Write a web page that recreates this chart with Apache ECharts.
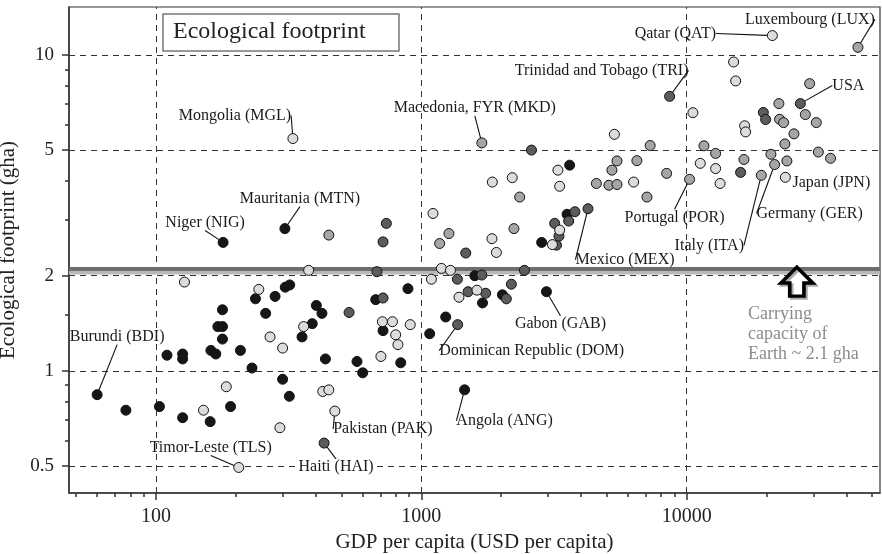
<!DOCTYPE html>
<html>
<head>
<meta charset="utf-8">
<script src="https://cdn.jsdelivr.net/npm/echarts@6/dist/echarts.min.js"></script>
<style>html,body{margin:0;padding:0;background:#fff}#c{width:882px;height:554px}</style>
</head>
<body>
<div id="c"></div>
<script>
// ---- data (GDP per capita USD, footprint gha, optional label) ----
const blackPts = [
  [60,0.84,'Burundi (BDI)'],[77,0.75],[103,0.77],[126,0.71],[160,0.69],[191,0.77],[230,1.02],
  [300,0.94],[318,0.83],[435,1.09],[572,1.07],[601,0.985],[836,1.06],[717,1.34],[1075,1.31],
  [1235,1.48],[110,1.12],[126,1.13],[126,1.09],[161,1.16],[168,1.13],[208,1.16],[171,1.38],
  [178,1.38],[178,1.26],[179,2.55,'Niger (NIG)'],[306,2.82,'Mauritania (MTN)'],[237,1.69],
  [281,1.72],[307,1.84],[319,1.87],[178,1.56],[259,1.52],[402,1.61],[422,1.52],[388,1.41],
  [355,1.28],[673,1.68],[890,1.82],[1590,2.0],[1700,1.64],[2020,1.74],[2960,1.78,'Gabon (GAB)'],
  [1455,0.87,'Angola (ANG)'],[2840,2.55],[3540,3.13],[3620,4.48]
];
const darkPts = [
  [430,0.59,'Haiti (HAI)'],[534,1.53],[680,2.06],[738,2.93],[717,2.56],[1470,2.36],[1690,2.01],
  [2445,2.08],[1367,1.95],[717,1.70],[1500,1.78],[1747,1.76],[2090,1.69],[2183,1.88],
  [1370,1.40,'Dominican Republic (DOM)'],[3230,2.50],[3300,2.67],[3180,2.93],[3590,2.98],
  [3790,3.19],[4245,3.26,'Mexico (MEX)'],[2600,5.0],[8620,7.4,'Trinidad and Tobago (TRI)'],
  [26800,7.02,'USA'],[19440,6.58],[19830,6.25],[15960,4.25]
];
const midPts = [
  [448,2.69],[1690,5.27,'Macedonia, FYR (MKD)'],[1270,2.72],[1172,2.53],[2233,2.82],[2347,3.55],
  [5460,4.62],[5225,4.32],[6490,4.63],[4565,3.92],[5090,3.87],[5460,3.89],[7280,5.17],[7080,3.55],
  [8400,4.22],[10250,4.04,'Portugal (POR)'],[11610,5.16],[12850,4.88],[16430,4.67],[20760,4.85],
  [23850,4.62],[31330,4.93],[34840,4.71],[21440,4.5,'Germany (GER)'],[19100,4.16,'Italy (ITA)'],
  [23440,5.23],[25350,5.63],[22250,7.02],[22390,6.26],[23180,6.11],[27990,6.48],[30780,6.11],
  [29050,8.12],[44180,10.58,'Luxembourg (LUX)']
];
const lightPts = [
  [128,1.91],[244,1.81],[376,2.08],[328,5.44,'Mongolia (MGL)'],[360,1.38],[269,1.28],[300,1.18],
  [184,0.89],[151,0.75],[293,0.66],[425,0.86],[448,0.87],[472,0.745,'Pakistan (PAK)'],
  [205,0.494,'Timor-Leste (TLS)'],[713,1.43],[778,1.43],[800,1.30],[816,1.21],[908,1.40],
  [704,1.11],[1106,3.15],[1190,2.11],[1287,2.08],[1091,1.95],[1845,2.62],[1917,2.37],[1386,1.71],
  [1620,1.80],[3116,2.51],[3320,2.79],[3320,3.84],[3270,4.32],[1851,3.96],[2200,4.09],[5337,5.61],
  [6308,3.96],[10550,6.57],[11250,4.54],[12850,4.37],[13360,3.92],[15020,9.51],[15290,8.28],
  [16530,5.97],[16670,5.71],[23530,4.10,'Japan (JPN)'],[21020,11.53,'Qatar (QAT)']
];
const xMajorTicks = [100, 1000, 10000];
const xMinorTicks = [50,60,70,80,90,200,300,400,500,600,700,800,900,2000,3000,4000,5000,6000,7000,8000,9000,20000,30000,40000,50000];
const yMajorTicks = [0.5, 1, 2, 5, 10];
const yMinorTicks = [0.6,0.7,0.8,0.9,1.5,3,4,6,7,8,9];
const carryingCapacity = 2.1;

// ---- presentation ----
const SERIF = 'Liberation Serif';
const labelOffsets = {
  'Mongolia (MGL)': [-58,-23], 'Mauritania (MTN)': [15,-30], 'Niger (NIG)': [-18,-20],
  'Burundi (BDI)': [20,-58], 'Timor-Leste (TLS)': [-28,-20], 'Haiti (HAI)': [12,24],
  'Pakistan (PAK)': [48,18], 'Angola (ANG)': [40,31], 'Gabon (GAB)': [14,32],
  'Dominican Republic (DOM)': [74,26], 'Mexico (MEX)': [37,51], 'Macedonia, FYR (MKD)': [-7,-35],
  'Trinidad and Tobago (TRI)': [-68,-26], 'Qatar (QAT)': [-97,-2], 'Luxembourg (LUX)': [-48,-28],
  'USA': [48,-18], 'Portugal (POR)': [-15,38], 'Germany (GER)': [35,49], 'Italy (ITA)': [-52,70],
  'Japan (JPN)': [46,5]
};
const noLeader = ['Japan (JPN)'];
const whiteBackLabels = ['Haiti (HAI)'];
const fmt = v => String(+(+v).toPrecision(6));

function toData(pts) {
  return pts.map(p => {
    const lbl = p[2] || '';
    const labelOpt = { show: !!lbl };
    if (whiteBackLabels.indexOf(lbl) >= 0) { labelOpt.backgroundColor = '#fff'; labelOpt.padding = [0, 2]; }
    return {
      value: [p[0], p[1]], name: lbl,
      label: labelOpt,
      labelLine: { show: !!lbl && noLeader.indexOf(lbl) < 0 }
    };
  });
}
function scatter(name, pts, fill) {
  return {
    name, type: 'scatter', z: 4, data: toData(pts), symbol: 'circle', symbolSize: 10,
    itemStyle: { color: fill, borderColor: '#111', borderWidth: 1, opacity: 1 },
    label: { show: false, position: 'inside', formatter: '{b}', fontFamily: SERIF, fontSize: 16, color: '#1a1a1a' },
    labelLine: { show: true, lineStyle: { color: '#111', width: 1.1 } },
    labelLayout: params => {
      const o = labelOffsets[params.text] || [0, 0];
      return { dx: o[0], dy: o[1] };
    },
    emphasis: { disabled: true }
  };
}

const axisCommonX = { type: 'log', logBase: 10, min: 47, max: 53500, position: 'bottom', gridIndex: 0 };
const axisCommonY = { type: 'log', logBase: 10, min: 0.41, max: 14.2, position: 'left', gridIndex: 0 };
const gridDash = { type: [6, 5], color: '#333', width: 1 };

const option = {
  animation: false,
  backgroundColor: '#fff',
  title: {
    text: 'Ecological footprint', left: 163, top: 14,
    borderColor: '#777', borderWidth: 1.5, padding: [6, 34, 7, 10],
    textStyle: { fontFamily: SERIF, fontSize: 24, fontWeight: 'normal', color: '#222' }
  },
  grid: {
    left: 69, right: 2, top: 7, bottom: 61, show: true, borderColor: '#333', borderWidth: 1.2,
    backgroundColor: 'transparent', containLabel: false, outerBoundsMode: 'none'
  },
  xAxis: [
    Object.assign({}, axisCommonX, {
      name: 'GDP per capita (USD per capita)', nameLocation: 'middle', nameGap: 38,
      nameTextStyle: { fontFamily: SERIF, fontSize: 21, color: '#222' },
      axisLine: { show: true, lineStyle: { color: '#333', width: 1.5 } },
      axisTick: { show: true, length: 7, customValues: xMajorTicks, lineStyle: { color: '#333', width: 1.5 } },
      axisLabel: { customValues: xMajorTicks, formatter: fmt, fontFamily: SERIF, fontSize: 20, color: '#222', margin: 14 },
      splitLine: { show: false }
    }),
    Object.assign({}, axisCommonX, {
      axisLine: { show: false },
      axisTick: { show: true, length: 4, customValues: xMinorTicks, lineStyle: { color: '#333', width: 1.5 } },
      axisLabel: { show: false }, splitLine: { show: false }
    })
  ],
  yAxis: [
    Object.assign({}, axisCommonY, {
      name: 'Ecological footprint (gha)', nameLocation: 'middle', nameGap: 40,
      nameTextStyle: { fontFamily: SERIF, fontSize: 21, color: '#222' },
      axisLine: { show: true, lineStyle: { color: '#333', width: 1.5 } },
      axisTick: { show: true, length: 7, customValues: yMajorTicks, lineStyle: { color: '#333', width: 1.5 } },
      axisLabel: { customValues: yMajorTicks, formatter: fmt, fontFamily: SERIF, fontSize: 19, color: '#222', margin: 15 },
      splitLine: { show: false }
    }),
    Object.assign({}, axisCommonY, {
      axisLine: { show: false },
      axisTick: { show: true, length: 4, customValues: yMinorTicks, lineStyle: { color: '#333', width: 1.5 } },
      axisLabel: { show: false }, splitLine: { show: false }
    })
  ],
  series: [
    {
      name: 'guides', type: 'scatter', data: [], z: 1, silent: true,
      markLine: {
        z: 1, silent: true, symbol: 'none', label: { show: false }, lineStyle: gridDash,
        data: yMajorTicks.map(v => ({ yAxis: v })).concat(xMajorTicks.map(v => ({ xAxis: v })))
      }
    },
    {
      name: 'capacity', type: 'scatter', data: [], z: 2, silent: true,
      markLine: {
        z: 2, silent: true, symbol: 'none', label: { show: false },
        lineStyle: { type: 'solid', color: '#6d6d6d', width: 4, shadowColor: '#b8b8b8', shadowOffsetY: 3.5, shadowBlur: 0 },
        data: [{ yAxis: carryingCapacity }]
      },
      markPoint: {
        z: 3, silent: true,
        data: [
          {
            coord: [26000, 1.915],
            symbol: 'path://M18 0 L36 18 L26 18 L26 33 L10 33 L10 18 L0 18 Z',
            symbolSize: [32, 29], symbolKeepAspect: false,
            itemStyle: { color: '#fff', borderColor: '#000', borderWidth: 3.5, shadowColor: '#aaa', shadowOffsetX: 2, shadowOffsetY: 2 },
            label: { show: false }
          },
          {
            coord: [17100, 1.613], symbol: 'rect', symbolSize: 1,
            itemStyle: { color: 'rgba(0,0,0,0)' },
            label: {
              show: true, position: [0, 0], align: 'left', verticalAlign: 'top',
              formatter: 'Carrying\ncapacity of\nEarth ~ 2.1 gha',
              fontFamily: SERIF, fontSize: 18, lineHeight: 20, color: '#8c8c8c'
            }
          }
        ]
      }
    },
    scatter('low', blackPts, '#161616'),
    scatter('lowermid', darkPts, '#5c5c5c'),
    scatter('uppermid', midPts, '#a5a5a5'),
    scatter('high', lightPts, '#dcdcdc')
  ]
};
const chart = echarts.init(document.getElementById('c'), null, { renderer: 'canvas' });
chart.setOption(option);
</script>
</body>
</html>
